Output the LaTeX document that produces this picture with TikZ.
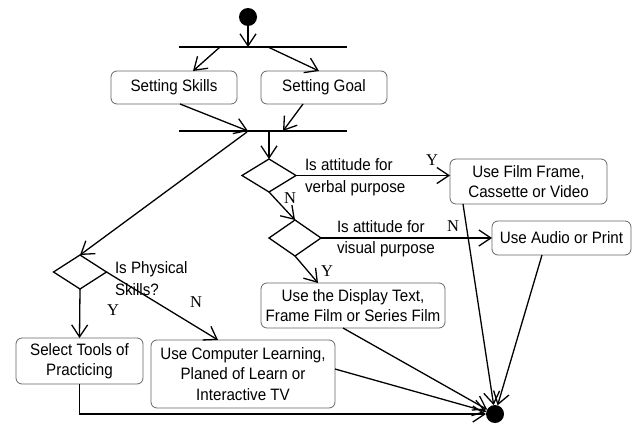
\documentclass[tikz,border=0pt]{standalone}
\usepackage{fontspec}
\setmainfont{Liberation Sans}[FakeStretch=0.92]
\newfontfamily\ynfont{Liberation Serif}
\usetikzlibrary{arrows.meta,shapes.geometric,calc}
\begin{document}
\begin{tikzpicture}[x=1pt,y=-1pt,
  every node/.style={inner sep=0pt,outer sep=0pt},
  act/.style={draw=black!60,line width=0.8pt,rounded corners=6pt,align=center,
    font=\fontsize{16.5}{20.5}\selectfont},
  dec/.style={draw,diamond,line width=1.3pt},
  lbl/.style={align=left,anchor=west,font=\fontsize{16.5}{21.5}\selectfont},
  yn/.style={font=\ynfont\fontsize{16.5}{16}\selectfont},
  bar/.style={line width=1.8pt},
  flow/.style={line width=1.3pt,-{Straight Barb[length=12pt,width=16pt,line width=1.3pt]}},
  dot/.style={circle,fill=black,minimum size=18pt}]
\useasboundingbox (0,0) rectangle (637,423);
% start / end
\node[dot] (start) at (248,17) {};
\node[dot] (end) at (495,414) {};
% bars
\coordinate (b1l) at (179,47); \coordinate (b1r) at (347,47);
\coordinate (b2l) at (179,131); \coordinate (b2r) at (347,131);
\draw[bar] (b1l) -- (b1r);
\draw[bar] (b2l) -- (b2r);
\coordinate (b1c) at (248,47);
\coordinate (b1a) at (220,47);
\coordinate (b1b) at (268,47);
\coordinate (b2a) at (248,131);
\coordinate (b2b) at (283,131);
\coordinate (b2c) at (269,131);
\coordinate (b2d) at (247,132);
% activities
\node[act,minimum width=126pt,minimum height=33pt] (skills) at (174,87.5) {Setting Skills};
\node[act,minimum width=126pt,minimum height=33pt] (goal) at (324,87.5) {Setting Goal};
\node[act,minimum width=157pt,minimum height=45pt] (film) at (528.5,181.5) {Use Film Frame,\\Cassette or Video};
\node[act,minimum width=139pt,minimum height=34pt] (audio) at (561.5,238) {Use Audio or Print};
\node[act,minimum width=184pt,minimum height=45pt] (display) at (353,305.5) {Use the Display Text,\\Frame Film or Series Film};
\node[act,minimum width=184pt,minimum height=68pt] (comp) at (243,374) {Use Computer Learning,\\Planed of Learn or\\Interactive TV};
\node[act,minimum width=127pt,minimum height=46pt] (tools) at (79.5,361) {Select Tools of\\Practicing};
% decisions
\node[dec,minimum width=54pt,minimum height=33pt] (d1) at (269,175.5) {};
\node[dec,minimum width=52pt,minimum height=36pt] (d2) at (295,238) {};
\node[dec,minimum width=53pt,minimum height=34pt] (d3) at (80,272) {};
% flows
\draw[flow] (start) -- (b1c);
\draw[flow] (b1a) -- ($(skills.north)+(19,0)$);
\draw[flow] (b1b) -- ($(goal.north)+(-5,0)$);
\draw[flow] ($(skills.south)+(6,0)$) -- (b2a);
\draw[flow] ($(goal.south)+(-21,0)$) -- (b2b);
\draw[flow] (b2c) -- (d1.north);
\draw[flow] (b2d) -- (d3.north);
\draw[flow] (d1.east) -- (d1.east -| film.west);
\draw[flow] (d1.south) -- (d2.north);
\draw[flow] (d2.east) -- (d2.east -| audio.west);
\draw[flow] (d2.south) -- ($(display.north)+(-35,0)$);
\draw[flow] (d3.south) -- (tools.north);
\draw[flow] (d3.east) -- ($(comp.north)+(-25,0)$);
\draw[flow] (tools.south) |- (end);
\draw[flow] ($(comp.east)+(0,-5)$) -- (end);
\draw[flow] ($(display.south)+(-10,0)$) -- (end);
\draw[flow] ($(film.south)+(-65.5,0)$) -- (end);
\draw[flow] ($(audio.south)+(-19.5,0)$) -- (end);
% labels
\node[lbl] (l1) at (305,177) {Is attitude for\\verbal purpose};
\node[lbl] (l2) at (337,238.5) {Is attitude for\\visual purpose};
\node[lbl] (l3) at (115,278.5) {Is Physical\\Skills?};
\node[yn] (y1) at (432,160) {Y};
\node[yn] (n1) at (290,198) {N};
\node[yn] (n2) at (453,226) {N};
\node[yn] (y2) at (327,271) {Y};
\node[yn] (y3) at (113,310) {Y};
\node[yn] (n3) at (196,302) {N};
\end{tikzpicture}
\end{document}
